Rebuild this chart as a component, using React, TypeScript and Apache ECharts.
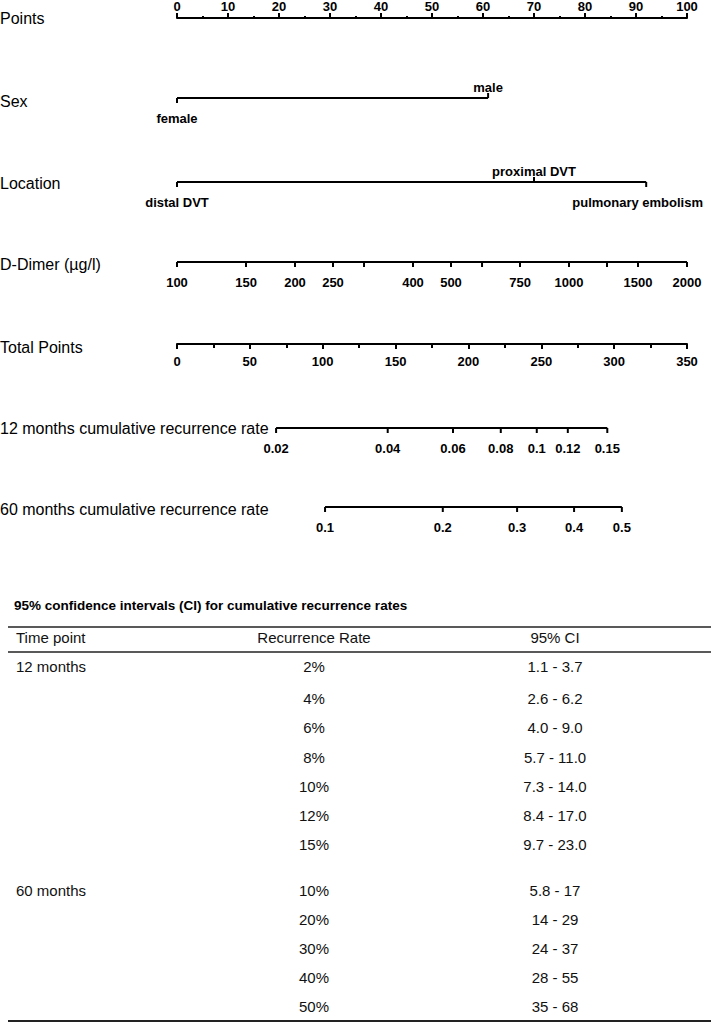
import React, { useEffect, useRef } from "react";
import * as echarts from "echarts";

// ---------- data ----------
const rowTitles = [
  "Points",
  "Sex",
  "Location",
  "D-Dimer (µg/l)",
  "Total Points",
  "12 months cumulative recurrence rate",
  "60 months cumulative recurrence rate",
];
const pointsRange = [0, 100];
const pointsStep = 10;

const sexLevels = ["female", "male"];
const sexPoints = [0, 61];

const locationLevels = ["distal DVT", "proximal DVT", "pulmonary embolism"];
const locationPoints = [0, 70, 92];

const dDimerValues = [100, 150, 200, 250, 300, 400, 500, 600, 750, 1000, 1250, 1500, 2000];
const dDimerLabels = ["100", "150", "200", "250", "", "400", "500", "", "750", "1000", "", "1500", "2000"];

const totalPointsRange = [0, 350];
const totalPointsStep = 50;

const rate12Labels = ["0.02", "0.04", "0.06", "0.08", "0.1", "0.12", "0.15"];
const rate12TotalPoints = [68, 144.6, 189.4, 222.2, 246.9, 268.2, 295.3];

const rate60Labels = ["0.1", "0.2", "0.3", "0.4", "0.5"];
const rate60TotalPoints = [101.6, 182.4, 233.4, 272.5, 305.3];

const tableTitle = "95% confidence intervals (CI) for cumulative recurrence rates";
const tableHeaders = ["Time point", "Recurrence Rate", "95% CI"];
const timePoints = ["12 months", "60 months"];
const rates12 = ["2%", "4%", "6%", "8%", "10%", "12%", "15%"];
const ci12 = ["1.1 - 3.7", "2.6 - 6.2", "4.0 - 9.0", "5.7 - 11.0", "7.3 - 14.0", "8.4 - 17.0", "9.7 - 23.0"];
const rates60 = ["10%", "20%", "30%", "40%", "50%"];
const ci60 = ["5.8 - 17", "14 - 29", "24 - 37", "28 - 55", "35 - 68"];

// ---------- layout ----------
const W = 711;
const H = 1024;
const AX_L = 177;
const AX_R = 687;
const rowLineY = [16, 98, 182, 262, 344, 428, 507];
const rowTitleY = [18.5, 101, 183, 264, 347, 428, 509];
const FONT = '"Liberation Sans", Arial, Helvetica, sans-serif';
const TICK_FONT = `bold 13px ${FONT}`;
const TICK_LEN = 5;

const measureCtx: CanvasRenderingContext2D | null =
  typeof document !== "undefined" ? document.createElement("canvas").getContext("2d") : null;
function textWidth(t: string, font: string): number {
  if (!measureCtx) return t.length * 7;
  measureCtx.font = font;
  return measureCtx.measureText(t).width;
}

function tickRenderer(labels: string[], sideOf: (i: number) => number) {
  return (params: any, api: any) => {
    const i = params.dataIndex;
    const p = api.coord([api.value(0), 0]);
    const side = sideOf(i);
    const label = labels[i] || "";
    const w = label ? textWidth(label, TICK_FONT) : 0;
    let x = p[0];
    const maxRight = W - 8;
    if (x + w / 2 > maxRight) x = maxRight - w / 2;
    return {
      type: "group",
      children: [
        {
          type: "line",
          shape: { x1: p[0], y1: p[1], x2: p[0], y2: p[1] + side * TICK_LEN },
          style: { stroke: "#000", lineWidth: 2 },
        },
        {
          type: "text",
          x,
          y: p[1] + (side > 0 ? 20 : -11),
          style: {
            text: label,
            font: TICK_FONT,
            fill: "#000",
            align: "center",
            verticalAlign: "middle",
          },
        },
      ],
    };
  };
}

const below = () => 1;
const alternate = (i: number) => (i % 2 === 1 ? -1 : 1);

function App() {
  const ref = useRef<HTMLDivElement>(null);

  useEffect(() => {
    if (!ref.current) return;
    const chart = echarts.init(ref.current, null, { renderer: "svg" });

    const grids: any[] = rowLineY.map((y, i) => {
      if (i === 0) return { left: AX_L, width: AX_R - AX_L, top: y, height: 20 };
      if (i === 4) return { left: AX_L, width: AX_R - AX_L, top: y - 20, height: 20 };
      return { left: AX_L, width: AX_R - AX_L, top: y - 10, height: 20 };
    });

    const hidden = (gi: number, min: number, max: number, type = "value") => ({
      gridIndex: gi,
      type,
      min,
      max,
      show: false,
    });

    const blackLine = { color: "#000", width: 2 };
    const nativeAxis = (gi: number, range: number[], step: number, position: string, minorLen: number, margin: number) => ({
      gridIndex: gi,
      type: "value",
      min: range[0],
      max: range[1],
      interval: step,
      position,
      axisLine: { show: true, onZero: false, lineStyle: blackLine },
      axisTick: { show: true, length: TICK_LEN, lineStyle: blackLine },
      minorTick: { show: true, splitNumber: 2, length: minorLen, lineStyle: blackLine },
      splitLine: { show: false },
      minorSplitLine: { show: false },
      axisLabel: {
        show: true,
        margin,
        color: "#000",
        fontFamily: FONT,
        fontWeight: "bold",
        fontSize: 13,
      },
    });

    const xAxes: any[] = [
      nativeAxis(0, pointsRange, pointsStep, "top", 2, 5),
      hidden(1, pointsRange[0], pointsRange[1]),
      hidden(2, pointsRange[0], pointsRange[1]),
      { ...hidden(3, dDimerValues[0], dDimerValues[dDimerValues.length - 1], "log"), logBase: 10 },
      nativeAxis(4, totalPointsRange, totalPointsStep, "bottom", 4, 11),
      hidden(5, totalPointsRange[0], totalPointsRange[1]),
      hidden(6, totalPointsRange[0], totalPointsRange[1]),
    ];
    const yAxes: any[] = rowLineY.map((_, i) => ({ gridIndex: i, type: "value", min: -1, max: 1, show: false }));

    const hLine = (gi: number, xs: number[]) => ({
      type: "line",
      xAxisIndex: gi,
      yAxisIndex: gi,
      data: [
        [Math.min(...xs), 0],
        [Math.max(...xs), 0],
      ],
      showSymbol: false,
      symbol: "none",
      silent: true,
      clip: false,
      lineStyle: { color: "#000", width: 2 },
    });
    const ticks = (gi: number, xs: number[], labels: string[], sideOf: (i: number) => number) => ({
      type: "custom",
      xAxisIndex: gi,
      yAxisIndex: gi,
      clip: false,
      silent: true,
      data: xs.map((x) => [x, 0]),
      encode: { x: 0, y: 1 },
      renderItem: tickRenderer(labels, sideOf),
    });

    const series: any[] = [
      hLine(1, sexPoints),
      ticks(1, sexPoints, sexLevels, alternate),
      hLine(2, locationPoints),
      ticks(2, locationPoints, locationLevels, alternate),
      hLine(3, dDimerValues),
      ticks(3, dDimerValues, dDimerLabels, below),
      hLine(5, rate12TotalPoints),
      ticks(5, rate12TotalPoints, rate12Labels, below),
      hLine(6, rate60TotalPoints),
      ticks(6, rate60TotalPoints, rate60Labels, below),
    ];

    // ----- graphic: row titles + table -----
    const g: any[] = [];
    rowTitles.forEach((t, i) => {
      g.push({
        type: "text",
        x: 0,
        y: rowTitleY[i],
        style: { text: t, font: `16px ${FONT}`, fill: "#000", align: "left", verticalAlign: "middle" },
      });
    });

    const TL = 8;
    const TR = W;
    const colX = [16, 314, 555];
    const cellFont = `15px ${FONT}`;
    g.push({
      type: "text",
      x: 14,
      y: 605,
      style: { text: tableTitle, font: `bold 13.5px ${FONT}`, fill: "#000", align: "left", verticalAlign: "middle" },
    });
    const hline = (y: number, lw: number) => ({
      type: "line",
      shape: { x1: TL, y1: y, x2: TR, y2: y },
      style: { stroke: "#222", lineWidth: lw },
    });
    g.push(hline(627, 1.5));
    g.push(hline(652, 1.5));
    g.push(hline(1021, 2));

    const cell = (text: string, col: number, y: number) => ({
      type: "text",
      x: colX[col],
      y,
      style: {
        text,
        font: cellFont,
        fill: "#111",
        align: col === 0 ? "left" : "center",
        verticalAlign: "middle",
      },
    });
    tableHeaders.forEach((h, c) => g.push(cell(h, c, 637)));

    const rows12Y = [666, 698, 727, 757, 786, 815, 844];
    const rows60Y = [890, 919, 948, 977, 1006];
    g.push(cell(timePoints[0], 0, rows12Y[0]));
    rates12.forEach((r, i) => {
      g.push(cell(r, 1, rows12Y[i]));
      g.push(cell(ci12[i], 2, rows12Y[i]));
    });
    g.push(cell(timePoints[1], 0, rows60Y[0]));
    rates60.forEach((r, i) => {
      g.push(cell(r, 1, rows60Y[i]));
      g.push(cell(ci60[i], 2, rows60Y[i]));
    });

    chart.setOption({
      animation: false,
      backgroundColor: "#fff",
      grid: grids,
      xAxis: xAxes,
      yAxis: yAxes,
      series,
      graphic: { elements: g },
    });

    return () => chart.dispose();
  }, []);

  return (
    <div
      ref={ref}
      style={{ position: "absolute", left: 0, top: 0, width: W, height: H, background: "#fff" }}
    />
  );
}

export default App;
